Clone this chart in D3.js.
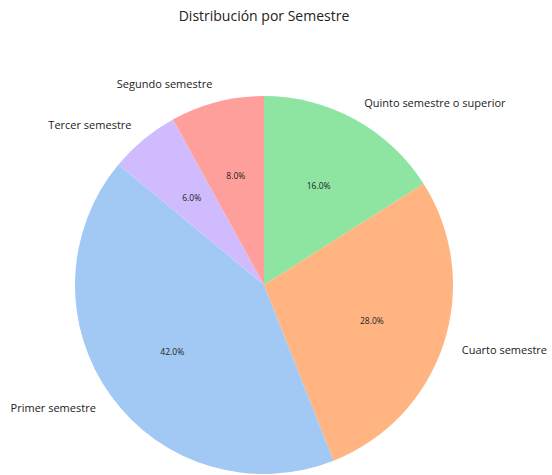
<!DOCTYPE html>
<html>
<head>
<meta charset="utf-8">
<script src="https://cdn.jsdelivr.net/npm/d3@7"></script>
<style>
  body { margin: 0; background: #fff; }
  text { font-family: "Open Sans", sans-serif; }
</style>
</head>
<body>
<div id="chart"></div>
<script>
// slices in clockwise order starting at 12 o'clock
var categories = ["Quinto semestre o superior", "Cuarto semestre", "Primer semestre", "Tercer semestre", "Segundo semestre"];
var values = [16, 28, 42, 6, 8];
var colors = ["#8de5a1", "#ffb482", "#a1c9f4", "#d0bbff", "#ff9f9b"];

var width = 552, height = 475,
    cx = 264, cy = 285, radius = 189;

var svg = d3.select("#chart").append("svg")
    .attr("width", width)
    .attr("height", height);

svg.append("text")
    .attr("x", cx)
    .attr("y", 15)
    .attr("text-anchor", "middle")
    .attr("dominant-baseline", "central")
    .attr("font-size", 14)
    .attr("fill", "#222")
    .text("Distribución por Semestre");

var data = categories.map(function(c, i) { return {name: c, value: values[i], color: colors[i]}; });
var total = d3.sum(values);

var pie = d3.pie().sort(null).value(function(d) { return d.value; });
var arcs = pie(data);

var arc = d3.arc().innerRadius(0).outerRadius(radius);

var g = svg.append("g").attr("transform", "translate(" + cx + "," + cy + ")");

g.selectAll("path")
    .data(arcs)
  .enter().append("path")
    .attr("d", arc)
    .attr("fill", function(d) { return d.data.color; });

function pos(d, r) {
  var a = (d.startAngle + d.endAngle) / 2;
  return [r * Math.sin(a), -r * Math.cos(a)];
}

// percentages
g.selectAll(".pct")
    .data(arcs)
  .enter().append("text")
    .attr("class", "pct")
    .attr("x", function(d) { return pos(d, radius * 0.6)[0]; })
    .attr("y", function(d) { return pos(d, radius * 0.6)[1]; })
    .attr("text-anchor", "middle")
    .attr("dominant-baseline", "central")
    .attr("font-size", 8.5)
    .attr("fill", "#222")
    .text(function(d) { return (d.data.value / total * 100).toFixed(1) + "%"; });

// category labels
g.selectAll(".lbl")
    .data(arcs)
  .enter().append("text")
    .attr("class", "lbl")
    .attr("x", function(d) { return pos(d, radius * 1.1)[0]; })
    .attr("y", function(d) { return pos(d, radius * 1.1)[1]; })
    .attr("text-anchor", function(d) { return pos(d, 1)[0] > 0 ? "start" : "end"; })
    .attr("dominant-baseline", "central")
    .attr("font-size", 11)
    .attr("fill", "#222")
    .text(function(d) { return d.data.name; });
</script>
</body>
</html>
